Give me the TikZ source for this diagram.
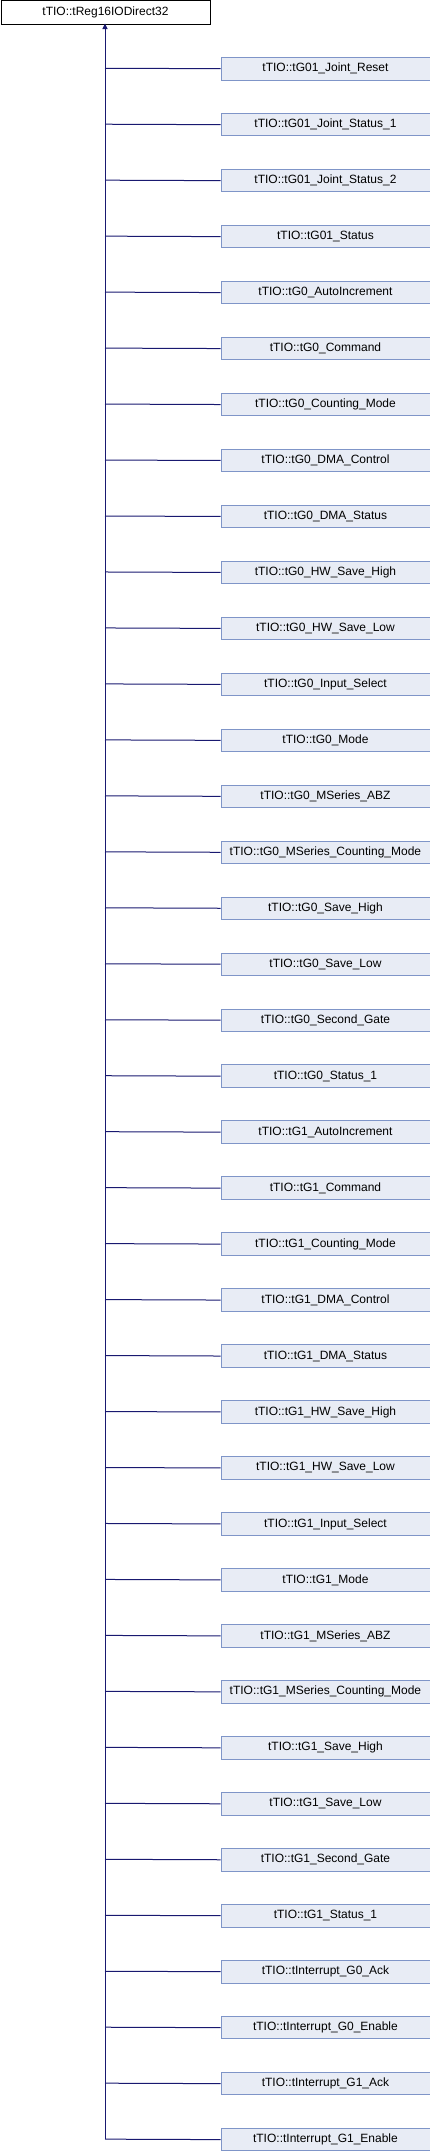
\documentclass[tikz,border=0pt]{standalone}
\usepackage{fontspec}
\setmainfont{Liberation Sans}
\usetikzlibrary{arrows.meta}
\definecolor{edgeblue}{HTML}{191970}
\definecolor{boxfill}{HTML}{E8ECF5}
\definecolor{boxline}{HTML}{7F95C8}
\tikzset{
  basebox/.style={draw=black, fill=white, line width=0.9pt, minimum width=209pt, minimum height=23pt, inner sep=0pt, anchor=north west, font=\fontsize{12}{14}\selectfont},
  childbox/.style={draw=boxline, fill=boxfill, line width=0.9pt, minimum width=209pt, minimum height=22.5pt, inner sep=0pt, anchor=north west, font=\fontsize{12}{14}\selectfont},
  conn/.style={draw=edgeblue, line width=1pt},
}
\begin{document}
\begin{tikzpicture}[x=1pt,y=-1pt]
\useasboundingbox (0,0) rectangle (430,2152);
\node[basebox] (base) at (0.5,0.5) {tTIO::tReg16IODirect32};
\coordinate (top) at (105,23.5);
\foreach \name [count=\i from 0] in {
tTIO::tG01\_Joint\_Reset,
tTIO::tG01\_Joint\_Status\_1,
tTIO::tG01\_Joint\_Status\_2,
tTIO::tG01\_Status,
tTIO::tG0\_AutoIncrement,
tTIO::tG0\_Command,
tTIO::tG0\_Counting\_Mode,
tTIO::tG0\_DMA\_Control,
tTIO::tG0\_DMA\_Status,
tTIO::tG0\_HW\_Save\_High,
tTIO::tG0\_HW\_Save\_Low,
tTIO::tG0\_Input\_Select,
tTIO::tG0\_Mode,
tTIO::tG0\_MSeries\_ABZ,
tTIO::tG0\_MSeries\_Counting\_Mode,
tTIO::tG0\_Save\_High,
tTIO::tG0\_Save\_Low,
tTIO::tG0\_Second\_Gate,
tTIO::tG0\_Status\_1,
tTIO::tG1\_AutoIncrement,
tTIO::tG1\_Command,
tTIO::tG1\_Counting\_Mode,
tTIO::tG1\_DMA\_Control,
tTIO::tG1\_DMA\_Status,
tTIO::tG1\_HW\_Save\_High,
tTIO::tG1\_HW\_Save\_Low,
tTIO::tG1\_Input\_Select,
tTIO::tG1\_Mode,
tTIO::tG1\_MSeries\_ABZ,
tTIO::tG1\_MSeries\_Counting\_Mode,
tTIO::tG1\_Save\_High,
tTIO::tG1\_Save\_Low,
tTIO::tG1\_Second\_Gate,
tTIO::tG1\_Status\_1,
tTIO::tInterrupt\_G0\_Ack,
tTIO::tInterrupt\_G0\_Enable,
tTIO::tInterrupt\_G1\_Ack,
tTIO::tInterrupt\_G1\_Enable}{
  \node[childbox] (c\i) at (220.5, 57+55.97*\i) {\name};
  \coordinate (j\i) at (105, 57+55.97*\i+11.25);
  \draw[conn] (j\i) -- (c\i.west);
}
\draw[conn, -{Triangle[length=5.5pt,width=5pt]}] (j37) -- (top);
\end{tikzpicture}
\end{document}
